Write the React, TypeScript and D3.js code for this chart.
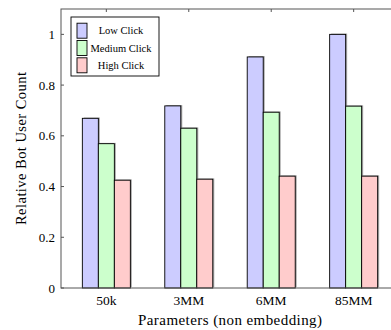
import React, {useEffect, useRef} from 'react';
import * as d3 from 'd3';

const categories = ['50k', '3MM', '6MM', '85MM'];
const seriesNames = ['Low Click', 'Medium Click', 'High Click'];
const lowClick = [0.669, 0.718, 0.911, 1.0];
const mediumClick = [0.569, 0.630, 0.693, 0.717];
const highClick = [0.425, 0.429, 0.441, 0.441];
const yTicks = [0, 0.2, 0.4, 0.6, 0.8, 1];
const colors = ['#ccccff', '#ccffcc', '#ffcccc'];

const width = 391;
const height = 330;
const font = 'Liberation Serif, DejaVu Serif, serif';

const App = () => {
    const svgRef = useRef(null);

    useEffect(() => {
        const svg = d3.select(svgRef.current);
        svg.selectAll('*').remove();
        svg.style('font-family', font);

        const series = [lowClick, mediumClick, highClick];

        // plot area (right side runs past the page edge, like the original)
        const left = 61, right = 399, top = 9, bottom = 288;

        const x = d3.scaleLinear().domain([-0.55, categories.length - 0.45]).range([left, right]);
        const y = d3.scaleLinear().domain([0, 1.1]).range([bottom, top]);
        const barW = 16;

        // bars
        series.forEach((vals, s) => {
            const g = svg.append('g');
            // soft shadow
            g.selectAll('rect.sh')
                .data(vals)
                .enter().append('rect')
                .attr('x', (d, i) => x(i) + (s - 1.5) * barW + 1.5)
                .attr('y', d => y(d) - 0.8)
                .attr('width', barW)
                .attr('height', d => bottom - y(d))
                .attr('fill', '#000')
                .attr('opacity', 0.35);
            g.selectAll('rect.bar')
                .data(vals)
                .enter().append('rect')
                .attr('x', (d, i) => x(i) + (s - 1.5) * barW)
                .attr('y', d => y(d))
                .attr('width', barW)
                .attr('height', d => bottom - y(d))
                .attr('fill', colors[s])
                .attr('stroke', '#000')
                .attr('stroke-width', 0.9);
        });

        // frame
        svg.append('rect')
            .attr('x', left).attr('y', top)
            .attr('width', right - left).attr('height', bottom - top)
            .attr('fill', 'none')
            .attr('stroke', '#555')
            .attr('stroke-width', 1);

        // top category ticks
        svg.append('g').selectAll('line')
            .data(categories)
            .enter().append('line')
            .attr('x1', (d, i) => x(i)).attr('x2', (d, i) => x(i))
            .attr('y1', top).attr('y2', top + 3)
            .attr('stroke', '#555');

        // y ticks
        const yg = svg.append('g');
        yg.selectAll('line.l')
            .data(yTicks)
            .enter().append('line')
            .attr('x1', left).attr('x2', left + 3)
            .attr('y1', d => y(d)).attr('y2', d => y(d))
            .attr('stroke', '#555');
        yg.selectAll('line.r')
            .data(yTicks)
            .enter().append('line')
            .attr('x1', right - 3).attr('x2', right)
            .attr('y1', d => y(d)).attr('y2', d => y(d))
            .attr('stroke', '#555');
        yg.selectAll('text')
            .data(yTicks)
            .enter().append('text')
            .attr('x', left - 6)
            .attr('y', d => y(d))
            .attr('dy', '0.35em')
            .attr('text-anchor', 'end')
            .attr('font-size', 13)
            .text(d => d3.format('~g')(d));

        // x labels
        svg.append('g').selectAll('text')
            .data(categories)
            .enter().append('text')
            .attr('x', (d, i) => x(i))
            .attr('y', 305)
            .attr('text-anchor', 'middle')
            .attr('font-size', 13.5)
            .text(d => d);

        // axis titles
        svg.append('text')
            .attr('x', (left + right) / 2)
            .attr('y', 325)
            .attr('text-anchor', 'middle')
            .attr('font-size', 15)
            .attr('textLength', 184)
            .text('Parameters (non embedding)');

        svg.append('text')
            .attr('transform', `translate(26, ${(top + bottom) / 2}) rotate(-90)`)
            .attr('text-anchor', 'middle')
            .attr('font-size', 14.5)
            .attr('textLength', 153)
            .text('Relative Bot User Count');

        // legend
        const lg = svg.append('g').attr('transform', 'translate(71, 17)');
        lg.append('rect')
            .attr('width', 88).attr('height', 59)
            .attr('fill', '#fff')
            .attr('stroke', '#000')
            .attr('stroke-width', 0.9);
        seriesNames.forEach((name, s) => {
            const cy = 13.7 + s * 17.3;
            lg.append('rect')
                .attr('x', 6).attr('y', cy - 7.5)
                .attr('width', 10).attr('height', 15)
                .attr('fill', colors[s])
                .attr('stroke', '#000')
                .attr('stroke-width', 0.9);
            lg.append('text')
                .attr('x', 50).attr('y', cy)
                .attr('dy', '0.35em')
                .attr('text-anchor', 'middle')
                .attr('font-size', 10.5)
                .text(name);
        });
    }, []);

    return (
        <div style={{position: 'fixed', left: 0, top: 0, width, height, overflow: 'hidden'}}>
            <svg ref={svgRef} width={width} height={height} style={{display: 'block', background: '#fff'}}></svg>
        </div>
    );
};

export default App;
